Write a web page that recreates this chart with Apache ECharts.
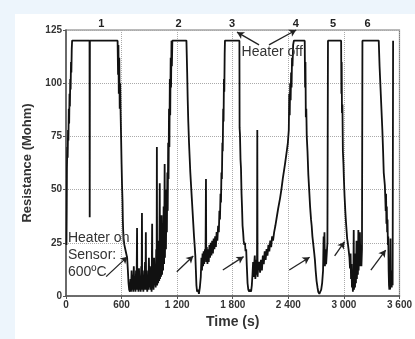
<!DOCTYPE html>
<html>
<head>
<meta charset="utf-8">
<script src="https://cdn.jsdelivr.net/npm/echarts@6/dist/echarts.min.js"></script>
<style>
html,body{margin:0;padding:0;background:#EDF5FC;}
#panel{position:absolute;left:15px;top:14px;right:0;bottom:0;background:#fff;}
#chart{position:absolute;left:0;top:0;width:415px;height:339px;}
</style>
</head>
<body>
<div id="panel"></div>
<div id="chart"></div>
<script>
// Time (s), Resistance (Mohm)
const timeSec = [5,8,10,14,18,22,26,30,34,38,42,46,50,54,58,62,66,
254,256,258,
557,562,566,570,575,580,585,590,595,600,605,610,614,618,622,630,640,650,660,668,675,682,690,
696,702,708,714,720,726,732,738,744,750,756,762,767,770,776,782,788,794,800,806,812,816,820,823,829,835,841,847,853,858,862,865,871,877,883,889,895,900,906,912,918,924,930,933,939,945,951,956,962,968,974,978,981,984,990,995,1001,1006,1012,1015,1021,1026,1032,1037,1043,1048,1054,1059,1065,1068,1074,1079,1085,1089,1094,1098,1103,1107,1112,1116,1121,1125,1130,1134,1139,1143,1148,
1300,1308,1314,1320,1328,1335,1342,1350,1358,1366,1374,1382,1390,1396,1402,1408,1415,1425,1435,1445,1455,1462,1468,1474,1480,1486,1492,1500,1506,1511,1514,1520,1527,1534,1541,1548,1555,1562,1570,1578,1586,1594,1602,1610,1618,1626,1634,1642,1650,1656,1662,1668,1673,1678,1683,1688,1692,1697,1701,1705,1709,1713,1716,
1872,1874,1878,1884,1889,1895,1900,1906,1912,1918,1925,1932,1938,1945,1952,1960,1968,1978,1988,1998,2006,2013,2020,2026,2032,2038,2044,2050,2056,2062,2065,2068,2075,2085,2095,2105,2115,2125,2135,2145,2155,2165,2175,2185,2195,2205,2215,2225,2235,2247,2260,2275,2290,2311,2325,2340,2364,2380,2395,2405,2410,2415,2420,2425,2430,2435,2440,2445,2452,2460,
2577,2581,2585,2589,2594,2599,2607,2616,2625,2635,2645,2652,2660,2670,2680,2687,2695,2705,2715,2723,2735,2745,2755,2765,2775,2781,2785,2790,2795,2801,2808,2815,2822,2828,
2970,2973,2976,2979,2984,2989,2995,3000,3007,3015,3022,3030,3035,3042,3050,3060,3066,3072,3077,3082,3087,3092,3097,3102,3106,3109,3115,3120,3126,3130,3136,3140,3146,3151,3156,3159,3164,3169,3173,3177,3183,3189,3195,3200,
3376,3385,3395,3405,3415,3423,3430,3436,3442,3447,3451,3455,3459,3463,3467,3471,3475,3479,3483,3487,3491,3495,3499,3503,3506,3511,3516,3521,3526,3531];
const resistance = [24,42,60,70,65,78,73,88,81,95,89,102,97,110,105,116,120,
120,37,120,
120,104,118,95,112,88,100,85,74,62,52,45,35,30,27,24,22,20,18,12,6,3,2,
8,2,12,3,10,2,14,3,9,2,12,4,32,3,11,2,13,3,9,2,14,4,39,3,12,2,10,3,16,4,30,3,12,2,9,3,18,4,14,3,10,2,34,4,12,3,18,5,14,4,22,6,70,5,20,6,26,7,53,8,30,9,38,10,34,12,42,15,62,18,40,22,50,30,58,40,72,55,88,70,102,85,112,98,120,108,120,
120,105,92,82,72,65,58,52,46,40,34,28,23,19,12,5,2,3,1,4,9,18,12,20,14,21,15,22,17,55,16,23,15,22,16,24,18,25,19,26,20,27,22,28,23,30,26,33,30,40,36,48,44,58,55,72,68,88,82,102,96,114,120,
120,79,76,64,60,48,42,33,30,26,24,25,21,22,14,6,3,2,3,2,5,10,16,9,15,19,8,17,10,14,78,9,14,16,11,17,12,19,15,21,17,22,19,24,21,26,23,28,26,30,33,37,41,46,50,55,62,67,72,78,95,85,100,92,105,98,112,108,118,120,
120,98,110,84,88,75,68,57,50,42,36,33,28,24,20,17,12,7,4,2,1,2,3,6,12,28,16,30,14,22,15,20,25,120,
120,95,110,86,90,68,62,55,47,40,35,30,27,25,22,18,13,20,8,15,4,10,2,7,31,3,14,4,20,6,26,8,18,10,31,12,22,14,30,16,24,14,22,120,
120,108,98,88,78,68,58,55,52,46,40,48,34,42,30,36,24,28,12,5,3,8,3,27,5,12,4,9,5,120];

const xTickLabels = ['0','600','1 200','1 800','2 400','3 000','3 600'];
const yTickLabels = ['0','25','50','75','100','125'];

const cycleNames = ['1','2','3','4','5','6'];
const cycleTimes = [380,1214,1792,2482,2883,3256];

const heaterOffText = 'Heater off';
const heaterOffAt = [2226,114.7];
const heaterOnText = 'Heater on\nSensor:\n600ºC';
const heaterOnAt = [21,19.3];

// arrows: [fromT, fromR, toT, toR]
const arrows = [
  [433,9.1,664,18.5],
  [1196,11.4,1374,18.8],
  [1693,12.2,1917,18.5],
  [2410,12.2,2630,18.2],
  [2900,18.8,3007,25.5],
  [3291,12.2,3451,21.6],
  [2084,118,1846,124],
  [2191,118,2485,125]
];

const FONT = 'Liberation Sans, Arial, sans-serif';
const data = timeSec.map((t,i)=>[t,resistance[i]]);

const markPts = cycleNames.map((n,i)=>({
  coord:[cycleTimes[i],125], name:n,
  label:{show:true,position:'top',distance:1,formatter:'{b}',fontSize:11,fontWeight:'bold',color:'#222',fontFamily:FONT}
}));
markPts.push({coord:heaterOffAt,name:heaterOffText,
  label:{show:true,position:'inside',formatter:'{b}',fontSize:14,color:'#333',fontFamily:FONT}});
markPts.push({coord:heaterOnAt,name:heaterOnText,
  label:{show:true,position:'right',distance:0,formatter:'{b}',fontSize:14,lineHeight:17,color:'#333',fontFamily:FONT}});

const chart = echarts.init(document.getElementById('chart'));
chart.setOption({
  animation:false,
  backgroundColor:'transparent',
  grid:{left:66,right:12,top:30,bottom:43,show:true,borderColor:'#777',borderWidth:1.2,backgroundColor:'transparent'},
  xAxis:{type:'value',min:0,max:3600,interval:600,
    name:'Time (s)',nameLocation:'middle',nameGap:16,
    nameTextStyle:{fontSize:14,fontWeight:'bold',color:'#333',fontFamily:FONT},
    axisLine:{show:true,lineStyle:{color:'#555',width:1.5}},
    axisTick:{show:true,length:3,lineStyle:{color:'#555'}},
    axisLabel:{margin:4,fontSize:10,fontWeight:'bold',color:'#333',fontFamily:FONT,
      formatter:v=>xTickLabels[Math.round(v/600)]},
    splitLine:{show:true,lineStyle:{type:'dotted',color:'#aaa',width:1}}
  },
  yAxis:{type:'value',min:0,max:125,interval:25,
    name:'Resistance (Mohm)',nameLocation:'middle',nameGap:30,
    nameTextStyle:{fontSize:13,fontWeight:'bold',color:'#333',fontFamily:FONT},
    axisLine:{show:true,lineStyle:{color:'#555',width:1.5}},
    axisTick:{show:true,length:3,lineStyle:{color:'#555'}},
    axisLabel:{margin:4,fontSize:10,fontWeight:'bold',color:'#333',fontFamily:FONT,
      formatter:v=>yTickLabels[Math.round(v/25)]},
    splitLine:{show:true,lineStyle:{type:'dotted',color:'#aaa',width:1}}
  },
  series:[{
    type:'line',data:data,showSymbol:false,symbol:'none',clip:false,
    lineStyle:{color:'#111',width:1.8},
    silent:true,
    markPoint:{symbol:'circle',symbolSize:0,silent:true,data:markPts},
    markLine:{silent:true,symbol:['none','arrow'],symbolSize:[6,7],
      lineStyle:{color:'#222',width:1.3,type:'solid'},label:{show:false},
      data:arrows.map(a=>[{coord:[a[0],a[1]]},{coord:[a[2],a[3]]}])}
  }]
});
</script>
</body>
</html>
